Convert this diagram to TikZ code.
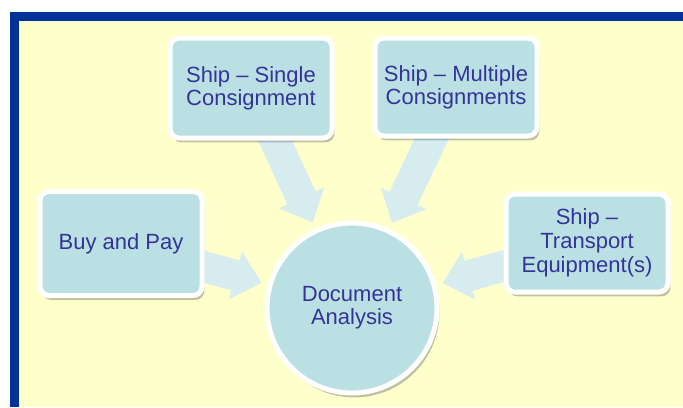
\documentclass[tikz,border=0pt]{standalone}
\usepackage{fontspec}
\setmainfont{Liberation Sans}
\usetikzlibrary{arrows.meta}
\usetikzlibrary{shadows}
\usepackage{xcolor}

\definecolor{frameblue}{HTML}{003399}
\definecolor{paper}{HTML}{FFFFCC}
\definecolor{boxfill}{HTML}{BBE0E3}
\definecolor{arrowfill}{HTML}{D6ECEF}
\definecolor{textblue}{HTML}{333399}

\pgfdeclarelayer{bg}
\pgfdeclarelayer{arr}
\pgfsetlayers{bg,arr,main}

\tikzset{
  box/.style={rectangle, rounded corners=4.5pt, draw=white, line width=2.5pt,
    fill=boxfill, minimum width=81pt, minimum height=49pt, align=center,
    text=textblue, outer sep=0pt,
    font=\fontsize{11}{11.6}\selectfont,
    drop shadow={shadow xshift=1.2pt, shadow yshift=-2.2pt, opacity=0.35, fill=black!70}},
  hub/.style={box, circle, minimum size=85pt},
  fat/.style={draw=arrowfill, line width=15.5pt,
    -{Triangle[length=13.5pt,width=24pt]},
    shorten <=-12pt, shorten >=4.5pt}
}

\begin{document}
\begin{tikzpicture}[x=0.5pt,y=-0.5pt]
\useasboundingbox (0,0) rectangle (683,407);
\begin{pgfonlayer}{bg}
\fill [frameblue] (10,12) rectangle (683,407);
\fill [paper] (19,21) rectangle (683,407);
\end{pgfonlayer}

\node [hub,at={(352,308)}] (doc) {Document\\Analysis};
\node [box,at={(251,88)},minimum height=50pt] (single) {Ship -- Single\\Consignment};
\node [box,at={(456,87)}] (multi) {Ship -- Multiple\\Consignments};
\node [box,at={(121,243.5)},minimum height=52pt] (buy) {Buy and Pay};
\node [box,at={(587,243)},font=\fontsize{11}{12}\selectfont] (equip) {Ship --\\Transport\\Equipment(s)};

\begin{pgfonlayer}{arr}
\draw [fat] (single) -- (doc);
\draw [fat] (multi) -- (doc);
\draw [fat] (buy) -- (doc);
\draw [fat] (equip) -- (doc);
\end{pgfonlayer}
\end{tikzpicture}
\end{document}
